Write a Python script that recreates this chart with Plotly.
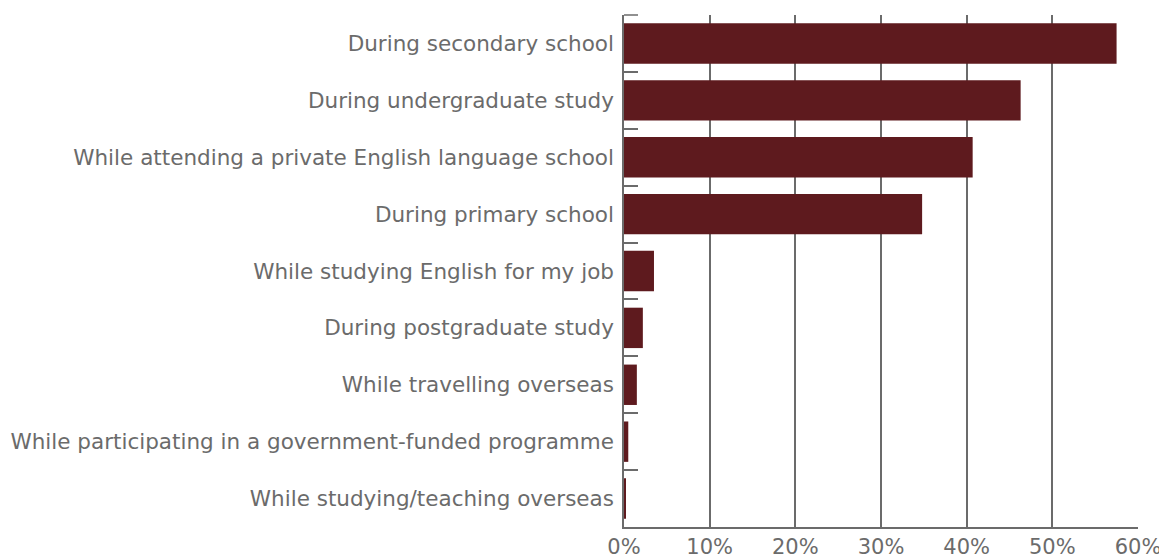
import plotly.graph_objects as go

categories = [
    "During secondary school",
    "During undergraduate study",
    "While attending a private English language school",
    "During primary school",
    "While studying English for my job",
    "During postgraduate study",
    "While travelling overseas",
    "While participating in a government-funded programme",
    "While studying/teaching overseas",
]
values = [57.5, 46.3, 40.7, 34.8, 3.5, 2.2, 1.5, 0.5, 0.2]
x_ticks = [0, 10, 20, 30, 40, 50, 60]
x_tick_labels = ["0%", "10%", "20%", "30%", "40%", "50%", "60%"]

grey = "#6b6b6b"
fig = go.Figure(go.Bar(
    x=values, y=categories, orientation="h",
    marker=dict(color="#5e1a1e", line=dict(width=0)),
    hoverinfo="x+y",
))
fig.update_layout(
    width=1159, height=548,
    margin=dict(l=616, r=29, t=7, b=29, autoexpand=False),
    plot_bgcolor="white", paper_bgcolor="white",
    bargap=0.29,
    showlegend=False,
    font=dict(family="DejaVu Sans", size=21, color=grey),
)
# top boundary tick on the category axis
fig.add_shape(type="line", xref="x domain", yref="y domain",
              x0=0, x1=14 / 514, y0=1, y1=1,
              line=dict(color=grey, width=1.5))
fig.update_xaxes(
    range=[0, 60], tickvals=x_ticks, ticktext=x_tick_labels,
    showgrid=True, gridcolor=grey, gridwidth=1.5,
    showline=True, linecolor=grey, linewidth=1.5, mirror=False,
    ticks="", zeroline=False, fixedrange=True,
    tickfont=dict(size=21, color=grey), ticklabelstandoff=0,
)
fig.update_yaxes(
    categoryorder="array", categoryarray=categories[::-1],
    showline=True, linecolor=grey, linewidth=1.5,
    ticks="inside", tickson="boundaries", ticklen=14, tickcolor=grey, tickwidth=1.5,
    showgrid=False, zeroline=False, ticklabelstandoff=4,
    tickfont=dict(size=21.5, color=grey),
)
fig.write_html("out.html")
